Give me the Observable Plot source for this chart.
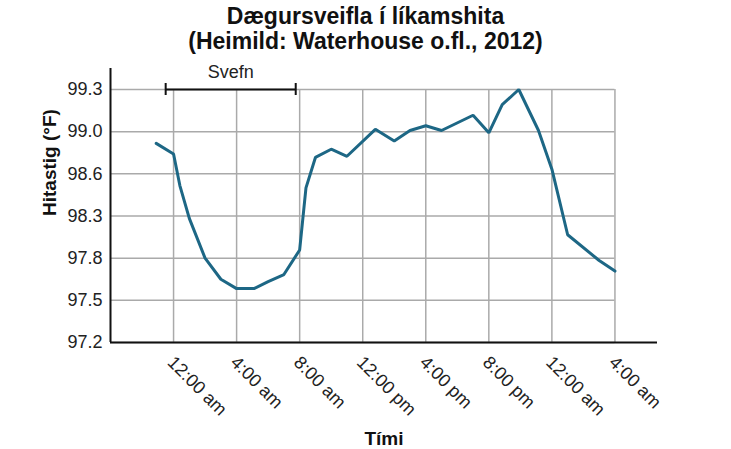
<!DOCTYPE html>
<html><head><meta charset="utf-8">
<script src="https://cdn.jsdelivr.net/npm/d3@7"></script>
<script src="https://cdn.jsdelivr.net/npm/@observablehq/plot@0.6"></script>
<style>
body{margin:0;background:#fff;font-family:"Liberation Sans",Arial,sans-serif;}
#title{height:56px;box-sizing:border-box;padding-top:4px;text-align:center;font-weight:bold;font-size:23px;line-height:25px;color:#111;}
#chart svg{display:block;}
</style></head><body>
<div id="title">Dægursveifla í líkamshita<br>(Heimild: Waterhouse o.fl., 2012)</div>
<div id="chart"></div>
<script>
// Hours relative to midnight (0 = 12:00 am), temperatures in °F
const hours  = [-1.1, 0, 0.4, 1, 2, 3, 4, 5.1, 6, 7, 8, 8.4, 9, 10, 11, 12.8, 14, 15, 16, 17, 19, 20, 20.85, 21.9, 23.15, 24, 25, 27, 28];
const tempsF = [98.86, 98.77, 98.50, 98.22, 97.88, 97.70, 97.62, 97.62, 97.68, 97.74, 97.95, 98.48, 98.74, 98.81, 98.75, 98.98, 98.88, 98.97, 99.01, 98.97, 99.10, 98.95, 99.19, 99.32, 98.97, 98.64, 98.08, 97.86, 97.77];

const xTickHours  = [0, 4, 8, 12, 16, 20, 24, 28];
const xTickLabels = ["12:00 am", "4:00 am", "8:00 am", "12:00 pm", "4:00 pm", "8:00 pm", "12:00 am", "4:00 am"];
const yTickValues = [97.16, 97.52, 97.88, 98.24, 98.6, 98.96, 99.32];
const yTickLabels = ["97.2", "97.5", "97.8", "98.3", "98.6", "99.0", "99.3"];

const sleepSpan  = [-0.5, 7.75];
const sleepLevel = [99.32];
const sleepLabel = ["Svefn"];

const xDomain = [-4, 30.7];
const yDomain = [97.16, 99.32];
const yAxisTop = 99.5;

const data = hours.map((h, i) => ({h, t: tempsF[i]}));
const gridEnd = xTickHours[xTickHours.length - 1];
const lineColor = "#1d6785";
const ink = "#111";

const chart = Plot.plot({
  width: 731,
  height: 393,
  marginLeft: 110,
  marginRight: 74,
  marginTop: 33,
  marginBottom: 107,
  x: {domain: xDomain, axis: null},
  y: {domain: yDomain, axis: null},
  style: {fontFamily: "Liberation Sans, Arial, sans-serif", background: "#fff", overflow: "visible"},
  marks: [
    Plot.ruleY(yTickValues, {x1: xDomain[0], x2: gridEnd, stroke: "#aaa", strokeWidth: 1.5}),
    Plot.ruleX(xTickHours, {y1: yDomain[0], y2: yDomain[1], stroke: "#aaa", strokeWidth: 1.5}),
    Plot.ruleX([xDomain[0]], {y1: yDomain[0], y2: yAxisTop, stroke: ink, strokeWidth: 2}),
    Plot.ruleY([yDomain[0]], {stroke: ink, strokeWidth: 2}),
    Plot.text(yTickValues, {y: d => d, text: d => yTickLabels[yTickValues.indexOf(d)], frameAnchor: "left", textAnchor: "end", dx: -8, fontSize: 18, fill: "#222"}),
    Plot.text(xTickHours, {x: d => d, text: (d, i) => xTickLabels[i], frameAnchor: "bottom", rotate: 45, textAnchor: "start", lineAnchor: "bottom", dx: -7, dy: 21, fontSize: 18, fill: "#222"}),
    Plot.ruleY(sleepLevel, {x1: sleepSpan[0], x2: sleepSpan[1], stroke: ink, strokeWidth: 2}),
    Plot.ruleX(sleepSpan, {y1: sleepLevel[0], y2: sleepLevel[0], insetTop: -6, insetBottom: -6, stroke: ink, strokeWidth: 2}),
    Plot.text(sleepLabel, {x: () => (sleepSpan[0] + sleepSpan[1]) / 2, y: () => sleepLevel[0], text: d => d, lineAnchor: "bottom", dy: -12, fontSize: 18, fill: "#222"}),
    Plot.line(data, {x: "h", y: "t", stroke: lineColor, strokeWidth: 3, strokeLinejoin: "miter"}),
    Plot.text(["Hitastig (°F)"], {text: d => d, frameAnchor: "left", rotate: -90, dx: -61, fontWeight: "bold", fontSize: 19, fill: ink}),
    Plot.text(["Tími"], {text: d => d, frameAnchor: "bottom", lineAnchor: "bottom", dy: 102, fontWeight: "bold", fontSize: 19, fill: ink})
  ]
});
document.getElementById("chart").appendChild(chart);
</script>
</body></html>
